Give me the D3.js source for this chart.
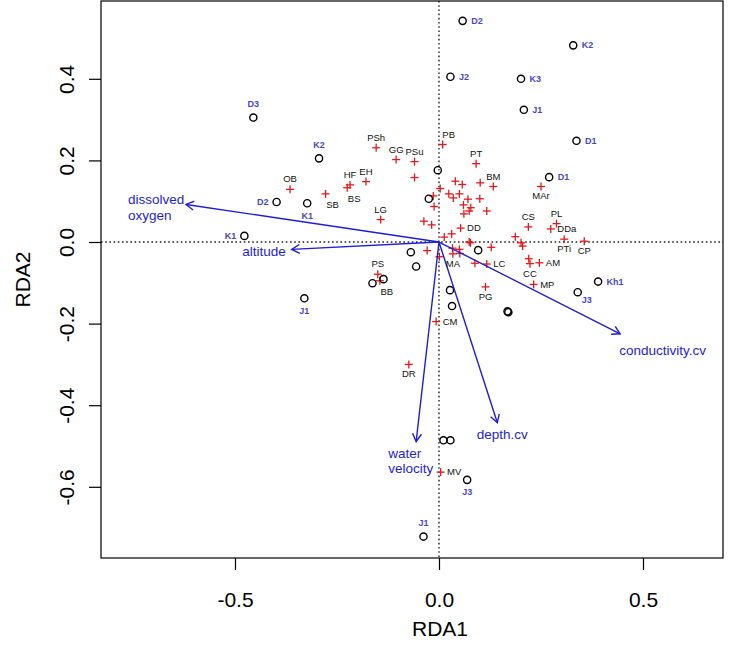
<!DOCTYPE html>
<html>
<head>
<meta charset="utf-8">
<script src="https://cdn.jsdelivr.net/npm/d3@7"></script>
<style>
  html, body { margin: 0; padding: 0; background: #fff; }
  svg { display: block; font-family: "Liberation Sans", Arial, sans-serif; }
</style>
</head>
<body>
<svg id="chart" width="740" height="660"></svg>
<script>
// ---- Axis settings ----
const xTicks = [-0.5, 0, 0.5];
const yTicks = [-0.6, -0.4, -0.2, 0, 0.2, 0.4];
const xTitle = "RDA1";
const yTitle = "RDA2";

// ---- Site scores (circles) ----
const siteX = [0.058, 0.329, 0.028, 0.201, 0.208, 0.337, 0.270, -0.455, -0.294, -0.398, -0.323, -0.477, -0.330, 0.390, 0.340, 0.069, -0.038,
               -0.003, -0.025, 0.096, -0.069, -0.056, -0.163, -0.136, 0.027, 0.032, 0.170, 0.168, 0.011, 0.028];
const siteY = [0.542, 0.482, 0.405, 0.400, 0.324, 0.248, 0.159, 0.305, 0.205, 0.098, 0.095, 0.015, -0.138, -0.097, -0.123, -0.583, -0.722,
               0.176, 0.106, -0.020, -0.025, -0.060, -0.101, -0.091, -0.118, -0.157, -0.172, -0.170, -0.486, -0.486];
const siteLabels = ["D2", "K2", "J2", "K3", "J1", "D1", "D1", "D3", "K2", "D2", "K1", "K1", "J1", "Kh1", "J3", "J3", "J1",
                    "", "", "", "", "", "", "", "", "", "", "", "", ""];
const siteLabelPlace = ["right", "right", "right", "right", "right", "right", "right", "above", "above", "left", "below", "left", "below", "right", "belowright", "below", "above",
                        "", "", "", "", "", "", "", "", "", "", "", "", ""];

// ---- Species scores (crosses) ----
const speciesX = [-0.365, -0.154, -0.105, -0.060, 0.009, 0.091, -0.218, -0.225, -0.179, -0.278, -0.143, 0.133, 0.053, 0.250, 0.219, 0.288, 0.274, 0.307, 0.356, 0.246, 0.223, 0.232, 0.117, 0.114, 0.034, -0.150, -0.145, -0.007, -0.074, 0.004,
  -0.060, 0.040, 0.057, 0.101, 0.003, 0.024, 0.035, 0.050, -0.014, -0.012, 0.100, 0.071, 0.060, 0.078, 0.074, 0.117, 0.061, -0.037, -0.018, 0.031, 0.013, 0.074, 0.077, 0.128, -0.029, 0.001, 0.033, 0.050, 0.051, 0.088, 0.187, 0.201, 0.205, 0.220];
const speciesY = [0.129, 0.231, 0.202, 0.197, 0.239, 0.192, 0.140, 0.133, 0.148, 0.118, 0.055, 0.136, 0.034, 0.136, 0.037, 0.045, 0.032, 0.007, 0.002, -0.051, -0.053, -0.104, -0.054, -0.110, -0.029, -0.079, -0.095, -0.195, -0.300, -0.564,
  0.158, 0.149, 0.141, 0.145, 0.131, 0.118, 0.108, 0.118, 0.113, 0.087, 0.106, 0.105, 0.091, 0.084, 0.076, 0.076, 0.069, 0.051, 0.042, 0.020, 0.012, 0.000, -0.002, -0.013, -0.021, -0.036, -0.015, -0.018, -0.028, -0.052, 0.013, -0.002, -0.010, -0.041];
const speciesLabels = ["OB", "PSh", "GG", "PSu", "PB", "PT", "HF", "BS", "EH", "SB", "LG", "BM", "DD", "MAr", "CS", "PL", "DDa", "PTi", "CP", "AM", "CC", "MP", "LC", "PG", "MA", "PS", "BB", "CM", "DR", "MV"];
const speciesLabelPlace = ["above", "above", "above", "above", "aboveright", "above", "above", "belowright", "above", "belowright", "above", "above", "right", "below", "above", "above", "right", "below", "below", "right", "below", "right", "right", "below", "below", "above", "belowright", "right", "below", "right"];

// ---- Environmental vectors (arrows) ----
const envNames = ["dissolved\noxygen", "altitude", "water\nvelocity", "depth.cv", "conductivity.cv"];
const envX = [-0.620, -0.361, -0.056, 0.143, 0.444];
const envY = [0.092, -0.018, -0.489, -0.443, -0.225];
// label anchor offsets from arrow tip (px) and alignment
const envLabelLayout = [
  { dx: -58, dy: -5, anchor: "start" },
  { dx: -6, dy: 1.5, anchor: "end" },
  { dx: -28, dy: 11.6, anchor: "start" },
  { dx: -20.5, dy: 11.3, anchor: "start" },
  { dx: -1, dy: 16, anchor: "start" }
];

// ---- Layout ----
const box = { left: 101, right: 723, top: 1, bottom: 558 };
const xDomain = [-0.8284, 0.6961];
const yDomain = [-0.7745, 0.5907];

const svg = d3.select("#chart");
const x = d3.scaleLinear().domain(xDomain).range([box.left, box.right]);
const y = d3.scaleLinear().domain(yDomain).range([box.bottom, box.top]);

const BLUE = "#1e1ed2";
const SITEBLUE = "#4848c4";
const RED = "#e31a1c";

// reference lines at 0
svg.append("line")
  .attr("x1", x(0)).attr("x2", x(0)).attr("y1", box.top).attr("y2", box.bottom)
  .attr("stroke", "#222").attr("stroke-width", 1.4).attr("stroke-dasharray", "1.6,2.6");
svg.append("line")
  .attr("x1", box.left).attr("x2", box.right).attr("y1", y(0)).attr("y2", y(0))
  .attr("stroke", "#222").attr("stroke-width", 1.4).attr("stroke-dasharray", "1.6,2.6");

// axes
const fmt = d => d.toFixed(1);
const gx = svg.append("g").attr("transform", `translate(0,${box.bottom})`)
  .call(d3.axisBottom(x).tickValues(xTicks).tickFormat(fmt).tickSize(12).tickSizeOuter(0));
gx.select(".domain").remove();
gx.selectAll("line").attr("stroke", "#000").attr("stroke-width", 1.2);
gx.selectAll("text").attr("y", 49.3).attr("dy", null)
  .attr("font-size", 21).attr("fill", "#000").attr("font-family", "Liberation Sans, Arial, sans-serif");

const gy = svg.append("g").attr("transform", `translate(${box.left},0)`)
  .call(d3.axisLeft(y).tickValues(yTicks).tickFormat(fmt).tickSize(12).tickSizeOuter(0));
gy.select(".domain").remove();
gy.selectAll("line").attr("stroke", "#000").attr("stroke-width", 1.2);
gy.selectAll("text").attr("x", null).attr("dy", null)
  .attr("transform", "translate(-27,0) rotate(-90)")
  .attr("text-anchor", "middle")
  .attr("font-size", 21).attr("fill", "#000").attr("font-family", "Liberation Sans, Arial, sans-serif");

// box
svg.append("rect")
  .attr("x", box.left).attr("y", box.top)
  .attr("width", box.right - box.left).attr("height", box.bottom - box.top)
  .attr("fill", "none").attr("stroke", "#000").attr("stroke-width", 1.2);

// axis titles
svg.append("text").attr("x", 440).attr("y", 636).attr("text-anchor", "middle")
  .attr("font-size", 21).attr("fill", "#000").text(xTitle);
svg.append("text").attr("transform", `translate(30,${(box.top + box.bottom) / 2}) rotate(-90)`)
  .attr("text-anchor", "middle").attr("font-size", 21).attr("fill", "#000").text(yTitle);

// species crosses
const species = speciesX.map((v, i) => ({ x: v, y: speciesY[i], label: speciesLabels[i] || "", place: speciesLabelPlace[i] || "" }));
const cs = 4;
const gs = svg.append("g");
species.forEach(d => {
  const px = x(d.x), py = y(d.y);
  gs.append("line").attr("x1", px - cs).attr("x2", px + cs).attr("y1", py).attr("y2", py)
    .attr("stroke", RED).attr("stroke-width", 1.3);
  gs.append("line").attr("x1", px).attr("x2", px).attr("y1", py - cs).attr("y2", py + cs)
    .attr("stroke", RED).attr("stroke-width", 1.3);
});

// sites circles
const sites = siteX.map((v, i) => ({ x: v, y: siteY[i], label: siteLabels[i], place: siteLabelPlace[i] }));
svg.append("g").selectAll("circle").data(sites).join("circle")
  .attr("cx", d => x(d.x)).attr("cy", d => y(d.y)).attr("r", 3.6)
  .attr("fill", "none").attr("stroke", "#000").attr("stroke-width", 1.4);

// arrows
const ox = x(0), oy = y(0);
const ga = svg.append("g");
envNames.forEach((name, i) => {
  const tx = x(envX[i]), ty = y(envY[i]);
  ga.append("line").attr("x1", ox).attr("y1", oy).attr("x2", tx).attr("y2", ty)
    .attr("stroke", BLUE).attr("stroke-width", 1.4);
  const ang = Math.atan2(ty - oy, tx - ox);
  const L = 9, a = Math.PI / 6;
  const p1 = [tx - L * Math.cos(ang - a), ty - L * Math.sin(ang - a)];
  const p2 = [tx - L * Math.cos(ang + a), ty - L * Math.sin(ang + a)];
  ga.append("path").attr("d", `M${p1[0]},${p1[1]}L${tx},${ty}L${p2[0]},${p2[1]}`)
    .attr("fill", "none").attr("stroke", BLUE).attr("stroke-width", 1.4);
  const lay = envLabelLayout[i];
  const lines = name.split("\n");
  const fs = 13.5;
  lines.forEach((ln, k) => {
    ga.append("text")
      .attr("x", tx + lay.dx)
      .attr("y", ty + lay.dy + k * 15.5 + fs * 0.35)
      .attr("text-anchor", lay.anchor)
      .attr("font-size", fs).attr("fill", BLUE).text(ln);
  });
});

// species labels
const spOff = {
  above: [0, -10.3, "middle"], below: [0, 9.6, "middle"], right: [6.5, 0, "start"],
  left: [-6.5, 0, "end"], aboveright: [6, -10, "middle"], belowright: [7, 10.5, "middle"]
};
const fsSp = 9.5;
species.filter(d => d.label).forEach(d => {
  const o = spOff[d.place];
  svg.append("text").attr("x", x(d.x) + o[0]).attr("y", y(d.y) + o[1] + fsSp * 0.35)
    .attr("text-anchor", o[2]).attr("font-size", fsSp).attr("fill", "#111").text(d.label);
});

// site labels
const stOff = {
  above: [0, -13.5, "middle"], below: [0, 12.2, "middle"], right: [8.5, 0, "start"],
  left: [-8, 0, "end"], belowright: [9, 8, "middle"]
};
const fsSt = 9;
sites.filter(d => d.label).forEach(d => {
  const o = stOff[d.place];
  svg.append("text").attr("x", x(d.x) + o[0]).attr("y", y(d.y) + o[1] + fsSt * 0.35)
    .attr("text-anchor", o[2]).attr("font-size", fsSt).attr("font-weight", "bold")
    .attr("fill", SITEBLUE).text(d.label);
});
</script>
</body>
</html>
